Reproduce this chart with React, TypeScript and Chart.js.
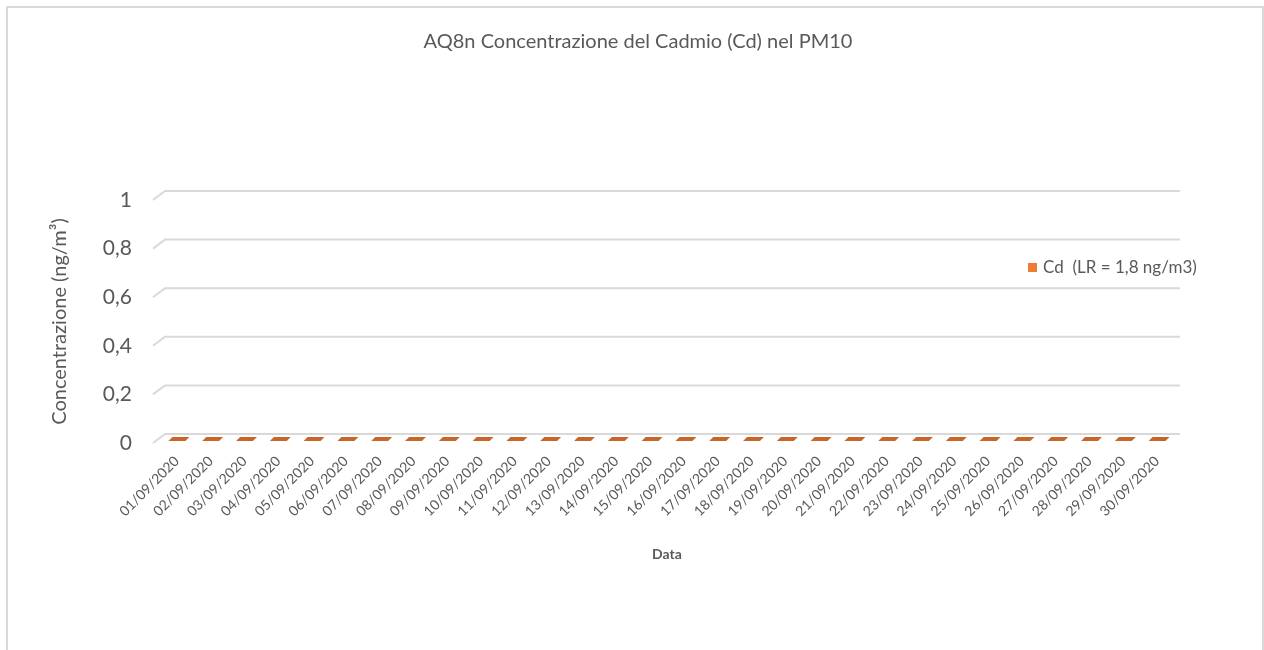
import { useEffect, useRef } from "react";
import { Chart, registerables } from "chart.js";

Chart.register(...registerables);

// Daily sampling dates (September 2020)
const dates = [
  "01/09/2020", "02/09/2020", "03/09/2020", "04/09/2020", "05/09/2020",
  "06/09/2020", "07/09/2020", "08/09/2020", "09/09/2020", "10/09/2020",
  "11/09/2020", "12/09/2020", "13/09/2020", "14/09/2020", "15/09/2020",
  "16/09/2020", "17/09/2020", "18/09/2020", "19/09/2020", "20/09/2020",
  "21/09/2020", "22/09/2020", "23/09/2020", "24/09/2020", "25/09/2020",
  "26/09/2020", "27/09/2020", "28/09/2020", "29/09/2020", "30/09/2020",
];

// Cadmium concentration, ng/m3 (all below the detection limit)
const cdValues = [
  0, 0, 0, 0, 0, 0, 0, 0, 0, 0,
  0, 0, 0, 0, 0, 0, 0, 0, 0, 0,
  0, 0, 0, 0, 0, 0, 0, 0, 0, 0,
];

const chartTitle = "AQ8n Concentrazione del Cadmio (Cd) nel PM10";
const seriesLabel = "Cd  (LR = 1,8 ng/m3)";
const yAxisTitle = "Concentrazione (ng/m³)";
const xAxisTitle = "Data";
const yMin = 0;
const yMax = 1;
const yStep = 0.2;

const TEXT = "#595959";
const GRID = "#d9d9d9";
const SERIES = "#ed7d31";
const SERIES_TOP = "#c8662a";
const FONT = "Lato, 'Open Sans', sans-serif";

// Gridlines with a short receding segment on the left, like a 3-D wall
const wallGrid = {
  id: "wallGrid",
  beforeDatasetsDraw(chart: any) {
    const { ctx, chartArea } = chart;
    const y = chart.scales.y;
    ctx.save();
    ctx.strokeStyle = GRID;
    ctx.lineWidth = 2;
    y.ticks.forEach((t: any) => {
      const py = y.getPixelForValue(t.value);
      ctx.beginPath();
      ctx.moveTo(chartArea.left - 7, py);
      ctx.lineTo(chartArea.left + 5, py - 9);
      ctx.lineTo(chartArea.right + 6, py - 9);
      ctx.stroke();
    });
    ctx.restore();
  },
};

// Top face of each (zero-height) column, drawn as a flat parallelogram
const columnTops = {
  id: "columnTops",
  afterDatasetsDraw(chart: any) {
    const { ctx } = chart;
    const meta = chart.getDatasetMeta(0);
    ctx.save();
    ctx.fillStyle = SERIES_TOP;
    meta.data.forEach((bar: any) => {
      const { x, y, width } = bar.getProps(["x", "y", "width"], true);
      const b = y - 2;
      ctx.beginPath();
      ctx.moveTo(x - width / 2, b);
      ctx.lineTo(x + width / 2, b);
      ctx.lineTo(x + width / 2 + 4, b - 4);
      ctx.lineTo(x - width / 2 + 4, b - 4);
      ctx.closePath();
      ctx.fill();
    });
    ctx.restore();
  },
};

// Legend overlaid on the right side of the plot
const overlayLegend = {
  id: "overlayLegend",
  afterDraw(chart: any) {
    const { ctx } = chart;
    const ds = chart.data.datasets[0];
    ctx.save();
    ctx.fillStyle = ds.backgroundColor;
    ctx.fillRect(1020, 255, 9, 9);
    ctx.fillStyle = TEXT;
    ctx.font = `17px ${FONT}`;
    ctx.textBaseline = "middle";
    ctx.textAlign = "left";
    ctx.fillText(ds.label, 1035, 259.5);
    ctx.restore();
  },
};

export default function App() {
  const ref = useRef<HTMLCanvasElement>(null);

  useEffect(() => {
    if (!ref.current) return;
    const chart = new Chart(ref.current, {
      type: "bar",
      data: {
        labels: dates,
        datasets: [
          {
            label: seriesLabel,
            data: cdValues,
            backgroundColor: SERIES,
            barPercentage: 0.5,
            categoryPercentage: 1,
          },
        ],
      },
      options: {
        animation: false,
        responsive: false,
        layout: { padding: { left: 6, right: 0, top: 0, bottom: 77 } },
        plugins: {
          legend: { display: false },
          tooltip: { enabled: false },
          title: {
            display: true,
            text: chartTitle,
            color: TEXT,
            font: { family: FONT, size: 20, weight: "normal" },
            padding: { top: 22, bottom: 146 },
          },
        },
        scales: {
          x: {
            grid: { display: false, drawTicks: false },
            border: { display: false },
            ticks: {
              color: TEXT,
              font: { family: FONT, size: 14 },
              minRotation: 45,
              maxRotation: 45,
              autoSkip: false,
              padding: 10,
            },
            title: {
              display: true,
              text: xAxisTitle,
              color: TEXT,
              font: { family: FONT, size: 14, weight: "bold" },
              padding: { top: 0, bottom: 10 },
            },
            afterFit: (s: any) => {
              s.height = 130;
            },
          },
          y: {
            min: yMin,
            max: yMax,
            grid: { display: false, drawTicks: false },
            border: { display: false },
            ticks: {
              stepSize: yStep,
              padding: 28,
              color: TEXT,
              font: { family: FONT, size: 21 },
              callback: (v: any) => String(Math.round(Number(v) * 10) / 10).replace(".", ","),
            },
            title: {
              display: true,
              text: yAxisTitle,
              color: TEXT,
              font: { family: FONT, size: 20 },
              padding: { top: 34, bottom: 0 },
            },
            afterFit: (s: any) => {
              s.width = 146;
            },
          },
          // empty right-hand strip that keeps room for the overlaid legend
          yRight: {
            position: "right",
            display: true,
            grid: { display: false, drawTicks: false },
            border: { display: false },
            ticks: { display: false },
            afterFit: (s: any) => {
              s.width = 88;
            },
          },
        },
      },
      plugins: [wallGrid, columnTops, overlayLegend],
    });
    return () => chart.destroy();
  }, []);

  return (
    <div
      style={{
        position: "fixed",
        left: 6,
        top: 6,
        width: 1258,
        height: 700,
        border: "2px solid #d9d9d9",
        boxSizing: "border-box",
        background: "#fff",
      }}
    >
      <canvas ref={ref} width={1254} height={642} style={{ display: "block" }} />
    </div>
  );
}
